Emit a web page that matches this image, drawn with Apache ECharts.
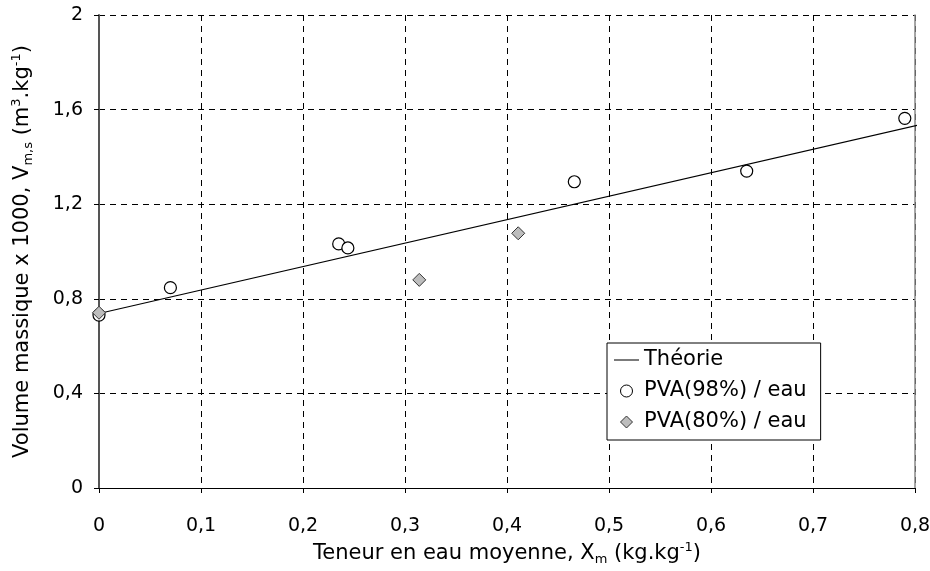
<!DOCTYPE html>
<html>
<head>
<meta charset="utf-8">
<script src="https://cdn.jsdelivr.net/npm/echarts@6/dist/echarts.min.js"></script>
<style>
html,body{margin:0;padding:0;background:#fff;}
#chart{width:930px;height:571px;}
</style>
</head>
<body>
<div id="chart"></div>
<script>
// Data
var theoryX = [0, 0.807];
var theoryY = [0.738, 1.538];
var pva98X = [0, 0.070, 0.235, 0.244, 0.466, 0.635, 0.790];
var pva98Y = [0.731, 0.847, 1.032, 1.015, 1.295, 1.340, 1.563];
var pva80X = [0, 0.314, 0.411];
var pva80Y = [0.741, 0.880, 1.077];
var seriesNames = ['Théorie', 'PVA(98%) / eau', 'PVA(80%) / eau'];
var xTitle = 'Teneur en eau moyenne, X{sub|m} (kg.kg{sup|-1})';
var yTitle = 'Volume massique x 1000, V{sub|m,s} (m{sup|3}.kg{sup|-1})';

function zip(xs, ys) { return xs.map(function (x, i) { return [x, ys[i]]; }); }
function fmt(v) { return (Math.round(v * 10) / 10).toString().replace('.', ','); }

var FONT = '"DejaVu Sans", "Liberation Sans", Arial, sans-serif';
var titleStyle = {
  fontFamily: FONT, fontSize: 21, color: '#000', lineHeight: 25,
  rich: {
    sub: { fontFamily: FONT, fontSize: 13, lineHeight: 13, verticalAlign: 'bottom', color: '#000' },
    sup: { fontFamily: FONT, fontSize: 13, lineHeight: 13, verticalAlign: 'top', color: '#000' }
  }
};
var chart = echarts.init(document.getElementById('chart'), null, { renderer: 'canvas' });
chart.setOption({
  animation: false,
  backgroundColor: '#fff',
  textStyle: { fontFamily: FONT, color: '#000' },
  grid: { left: 99, right: 15, top: 15, bottom: 83, containLabel: false, outerBoundsMode: 'none' },
  xAxis: {
    type: 'value', min: 0, max: 0.8, interval: 0.1,
    name: xTitle, nameLocation: 'middle', nameGap: 43,
    nameTextStyle: titleStyle,
    axisLine: { show: true, onZero: false, lineStyle: { color: '#000', width: 1 } },
    axisTick: { show: true, length: 5, lineStyle: { color: '#000' } },
    axisLabel: { fontFamily: FONT, fontSize: 19, color: '#000', margin: 29, formatter: fmt },
    splitLine: { show: true, lineStyle: { color: '#000', type: [6, 5], width: 1 } }
  },
  yAxis: [{
    type: 'value', min: 0, max: 2, interval: 0.4,
    name: yTitle, nameLocation: 'middle', nameGap: 64, nameRotate: 90,
    nameTextStyle: titleStyle,
    axisLine: { show: true, onZero: false, lineStyle: { color: '#555', width: 2 } },
    axisTick: { show: true, length: 5, lineStyle: { color: '#000' } },
    axisLabel: { fontFamily: FONT, fontSize: 19, color: '#000', margin: 16, formatter: fmt },
    splitLine: { show: true, lineStyle: { color: '#000', type: [6, 5], width: 1 } }
  }, {
    type: 'value', min: 0, max: 2, interval: 0.4, position: 'right',
    axisLine: { show: true, onZero: false, lineStyle: { color: '#888', width: 1.5 } },
    axisTick: { show: false }, axisLabel: { show: false }, splitLine: { show: false }
  }],
  legend: {
    orient: 'vertical', left: 607, top: 343,
    backgroundColor: '#fff', borderColor: '#000', borderWidth: 1,
    padding: [6, 14, 7, 7], itemGap: 9, itemWidth: 25, itemHeight: 12,
    textStyle: { fontFamily: FONT, fontSize: 21, color: '#000', lineHeight: 22 },
    data: [
      { name: seriesNames[0], icon: 'path://M0,0H24V1H0Z', itemStyle: { color: '#000' } },
      { name: seriesNames[1], icon: 'path://M5,0A5,5,0,1,1,5,10A5,5,0,1,1,5,0Z',
        itemStyle: { color: '#fff', borderColor: '#000', borderWidth: 1 } },
      { name: seriesNames[2], icon: 'path://M6,0L12,6L6,12L0,6Z',
        itemStyle: { color: '#bdbdbd', borderColor: '#333', borderWidth: 1 } }
    ]
  },
  series: [{
    name: seriesNames[0], type: 'line', data: zip(theoryX, theoryY),
    showSymbol: false, symbol: 'none', clip: false,
    lineStyle: { color: '#000', width: 1.2 }, itemStyle: { color: '#000' }, z: 2
  }, {
    name: seriesNames[1], type: 'scatter', data: zip(pva98X, pva98Y),
    symbol: 'circle', symbolSize: 12, clip: false,
    itemStyle: { color: '#fff', borderColor: '#000', borderWidth: 1.2, opacity: 1 }, z: 3
  }, {
    name: seriesNames[2], type: 'scatter', data: zip(pva80X, pva80Y),
    symbol: 'diamond', symbolSize: 13, clip: false,
    itemStyle: { color: '#bdbdbd', borderColor: '#333', borderWidth: 1, opacity: 1 }, z: 4
  }]
});
</script>
</body>
</html>
